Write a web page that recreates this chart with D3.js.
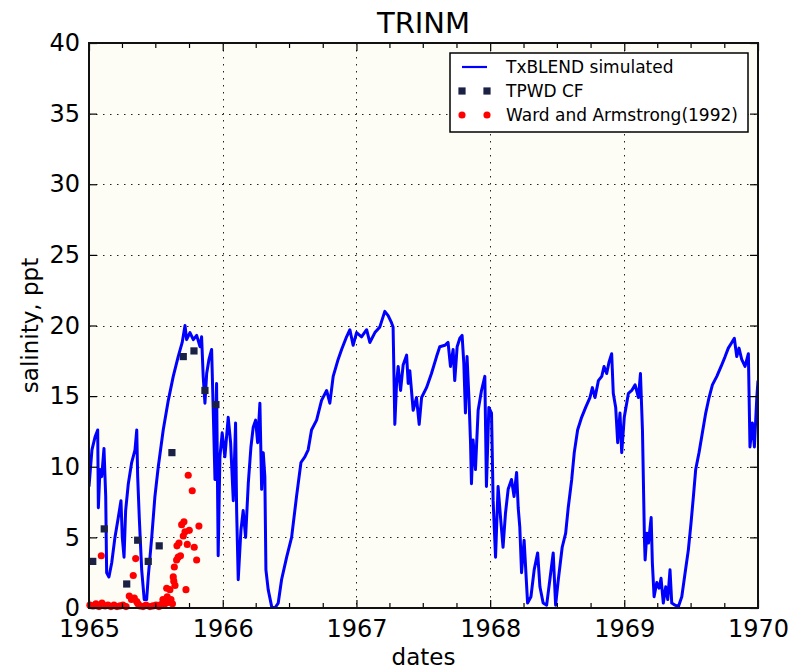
<!DOCTYPE html>
<html>
<head>
<meta charset="utf-8">
<script src="https://cdn.jsdelivr.net/npm/d3@7"></script>
<style>
  html, body { margin: 0; padding: 0; background: #ffffff; }
  svg { display: block; }
  text { font-family: "DejaVu Sans", sans-serif; fill: #000; }
</style>
</head>
<body>
<svg id="chart" width="795" height="672"></svg>
<script>
// ---------- data (decimal year, salinity ppt) ----------
const chartTitle = "TRINM";
const xLabel = "dates";
const yLabel = "salinity, ppt";
const yearTicks = [1965, 1966, 1967, 1968, 1969, 1970];
const salinityTicks = [0, 5, 10, 15, 20, 25, 30, 35, 40];
const seriesNames = ["TxBLEND simulated", "TPWD CF", "Ward and Armstrong(1992)"];

const simulated = [
  [1965.000,8.6],[1965.022,11.2],[1965.045,12.1],[1965.065,12.6],[1965.070,7.1],[1965.082,9.8],[1965.095,9.3],
  [1965.112,11.3],[1965.125,7.9],[1965.132,2.5],[1965.149,2.2],[1965.170,3.2],[1965.194,5.0],[1965.219,6.4],
  [1965.239,7.6],[1965.249,5.0],[1965.262,3.6],[1965.274,6.9],[1965.294,8.8],[1965.319,10.3],[1965.344,11.2],
  [1965.357,12.6],[1965.364,9.3],[1965.376,6.4],[1965.394,2.7],[1965.413,0.6],[1965.431,0.6],[1965.443,2.2],
  [1965.469,5.0],[1965.493,7.9],[1965.518,10.0],[1965.555,12.6],[1965.593,14.7],[1965.630,16.4],[1965.667,17.8],
  [1965.697,18.8],[1965.718,20.0],[1965.730,19.0],[1965.755,19.5],[1965.780,19.0],[1965.805,19.3],[1965.830,18.5],
  [1965.842,19.2],[1965.854,16.4],[1965.867,14.5],[1965.880,16.6],[1965.897,17.6],[1965.917,18.3],[1965.929,14.0],
  [1965.942,9.1],[1965.954,15.9],[1965.966,3.7],[1965.979,10.7],[1965.996,12.4],
  [1966.016,10.7],[1966.041,13.5],[1966.059,11.7],[1966.079,7.6],[1966.096,13.1],[1966.104,6.9],[1966.116,2.0],
  [1966.136,5.5],[1966.153,6.9],[1966.171,5.0],[1966.191,8.8],[1966.211,11.4],[1966.228,12.8],[1966.246,13.3],
  [1966.261,11.7],[1966.278,14.5],[1966.291,8.4],[1966.303,11.0],[1966.315,9.3],[1966.323,2.7],[1966.340,1.3],
  [1966.366,0.1],[1966.390,0.0],[1966.415,0.35],[1966.440,2.0],[1966.478,3.6],[1966.515,5.0],[1966.552,7.9],
  [1966.585,10.3],[1966.614,10.7],[1966.639,11.2],[1966.664,12.6],[1966.702,13.3],[1966.739,14.7],[1966.777,15.4],
  [1966.801,14.5],[1966.826,16.4],[1966.863,17.6],[1966.889,18.3],[1966.926,19.2],[1966.951,19.7],[1966.975,18.6],
  [1967.001,19.5],[1967.038,19.2],[1967.076,19.7],[1967.100,18.8],[1967.138,19.5],[1967.175,19.9],[1967.212,21.0],
  [1967.237,20.7],[1967.262,20.2],[1967.274,19.9],[1967.287,13.0],[1967.300,15.9],[1967.312,17.1],[1967.330,15.4],
  [1967.349,17.2],[1967.375,17.9],[1967.387,15.9],[1967.399,16.8],[1967.424,14.0],[1967.449,14.9],[1967.469,13.0],
  [1967.487,14.9],[1967.524,15.6],[1967.561,16.6],[1967.599,17.8],[1967.623,18.5],[1967.661,18.6],[1967.685,18.8],
  [1967.703,17.1],[1967.723,18.3],[1967.735,16.1],[1967.753,18.5],[1967.773,19.1],[1967.790,19.3],[1967.803,17.3],
  [1967.815,13.8],[1967.827,17.8],[1967.842,14.7],[1967.853,11.7],[1967.860,8.8],[1967.872,11.9],[1967.890,9.8],
  [1967.910,14.0],[1967.935,15.4],[1967.960,16.4],[1967.972,8.6],[1967.990,14.2],
  [1968.010,13.8],[1968.022,7.6],[1968.040,3.6],[1968.059,8.6],[1968.079,6.2],[1968.096,4.3],[1968.114,6.7],
  [1968.134,8.4],[1968.159,9.1],[1968.178,7.9],[1968.197,9.6],[1968.209,7.1],[1968.221,5.7],[1968.234,2.5],
  [1968.253,4.8],[1968.279,0.35],[1968.304,0.8],[1968.328,2.7],[1968.354,3.9],[1968.371,1.5],[1968.395,0.35],
  [1968.421,0.2],[1968.445,2.0],[1968.470,3.9],[1968.488,0.2],[1968.508,2.0],[1968.537,4.3],[1968.563,5.3],
  [1968.582,7.1],[1968.608,9.1],[1968.627,11.0],[1968.652,12.6],[1968.682,13.5],[1968.712,14.2],[1968.744,14.9],
  [1968.762,15.6],[1968.782,14.9],[1968.807,16.1],[1968.832,16.4],[1968.849,17.1],[1968.869,16.6],[1968.886,17.4],
  [1968.906,18.0],[1968.918,15.2],[1968.936,14.2],[1968.951,11.7],[1968.968,13.8],[1968.981,11.0],
  [1969.000,13.5],[1969.031,15.2],[1969.056,15.4],[1969.081,15.8],[1969.106,14.9],[1969.121,16.6],[1969.136,12.6],
  [1969.151,4.8],[1969.156,3.4],[1969.169,5.3],[1969.181,4.6],[1969.201,6.4],[1969.210,3.2],[1969.223,0.8],
  [1969.243,1.8],[1969.260,1.4],[1969.275,2.1],[1969.292,0.35],[1969.310,1.5],[1969.325,0.6],[1969.342,2.7],
  [1969.355,0.35],[1969.380,0.2],[1969.405,0.1],[1969.430,0.8],[1969.455,2.5],[1969.479,4.1],[1969.499,6.0],
  [1969.517,7.9],[1969.534,9.8],[1969.559,11.0],[1969.584,12.4],[1969.609,13.8],[1969.634,14.9],[1969.659,15.8],
  [1969.692,16.4],[1969.724,17.1],[1969.754,17.8],[1969.778,18.4],[1969.804,18.8],[1969.823,19.1],[1969.841,17.8],
  [1969.858,18.4],[1969.878,17.6],[1969.903,17.1],[1969.928,18.0],[1969.940,11.4],[1969.958,13.1],[1969.973,11.4],
  [1969.991,14.9],[1970.000,16.1]
];

const tpwdCF = [
  [1965.028,3.3],[1965.114,5.6],[1965.282,1.7],[1965.364,4.8],[1965.443,3.3],[1965.525,4.4],
  [1965.620,11.0],[1965.705,17.8],[1965.785,18.2],[1965.867,15.4],[1965.949,14.4]
];

const wardArmstrong = [
  [1965.007,0.2],[1965.030,0.15],[1965.052,0.3],[1965.075,0.1],[1965.097,0.35],[1965.120,0.15],[1965.142,0.2],
  [1965.164,0.1],[1965.187,0.2],[1965.209,0.1],[1965.232,0.15],[1965.254,0.2],[1965.277,0.1],[1965.381,0.15],
  [1965.404,0.1],[1965.426,0.2],[1965.456,0.1],[1965.478,0.15],[1965.501,0.2],[1965.523,0.1],[1965.538,0.25],
  [1965.092,3.7],[1965.301,0.85],[1965.318,0.6],[1965.331,2.3],[1965.339,0.7],[1965.349,3.5],[1965.357,0.45],
  [1965.366,0.3],[1965.553,0.6],[1965.568,0.3],[1965.581,1.4],[1965.585,0.8],[1965.594,0.4],[1965.605,1.3],
  [1965.613,0.6],[1965.624,0.3],[1965.630,2.2],[1965.634,1.9],[1965.638,2.9],[1965.643,1.6],[1965.655,3.4],
  [1965.658,4.4],[1965.667,3.6],[1965.673,4.6],[1965.684,3.7],[1965.693,5.9],[1965.705,5.1],[1965.710,6.1],
  [1965.718,5.4],[1965.725,1.3],[1965.735,4.5],[1965.742,9.4],[1965.750,5.5],[1965.772,8.3],[1965.787,4.3],
  [1965.805,3.4],[1965.822,5.8]
];

// ---------- helpers ----------
function toDate(dy) {
  const y = Math.floor(dy);
  const s = Date.UTC(y, 0, 1), e = Date.UTC(y + 1, 0, 1);
  return new Date(s + (dy - y) * (e - s));
}

// ---------- layout ----------
const plot = { left: 89, top: 43, right: 758, bottom: 608 };
const svg = d3.select("#chart");

const x = d3.scaleUtc()
  .domain([toDate(yearTicks[0]), toDate(yearTicks[yearTicks.length - 1])])
  .range([plot.left, plot.right]);
const y = d3.scaleLinear()
  .domain([salinityTicks[0], salinityTicks[salinityTicks.length - 1]])
  .range([plot.bottom, plot.top]);

const yearDates = yearTicks.map(toDate);
const quarterDates = d3.utcMonth.every(3).range(yearDates[0], yearDates[yearDates.length - 1])
  .filter(d => d.getUTCMonth() !== 0);

// background
svg.append("rect")
  .attr("x", plot.left).attr("y", plot.top)
  .attr("width", plot.right - plot.left).attr("height", plot.bottom - plot.top)
  .attr("fill", "#fdfdf6");

// grid
const grid = svg.append("g").attr("stroke", "#222").attr("stroke-width", 1)
  .attr("stroke-dasharray", "1.5,5.5").attr("fill", "none");
grid.selectAll("line.v").data(yearDates.slice(1, -1)).join("line")
  .attr("x1", d => Math.round(x(d)) + 0.5).attr("x2", d => Math.round(x(d)) + 0.5)
  .attr("y1", plot.top).attr("y2", plot.bottom);
grid.selectAll("line.h").data(salinityTicks.slice(1, -1)).join("line")
  .attr("y1", d => Math.round(y(d)) + 0.5).attr("y2", d => Math.round(y(d)) + 0.5)
  .attr("x1", plot.left).attr("x2", plot.right);

// clip
svg.append("clipPath").attr("id", "clip").append("rect")
  .attr("x", plot.left).attr("y", plot.top - 2)
  .attr("width", plot.right - plot.left).attr("height", plot.bottom - plot.top + 2);

const marks = svg.append("g").attr("clip-path", "url(#clip)");

const line = d3.line()
  .x(d => x(toDate(d[0])))
  .y(d => y(d[1]));

marks.append("path")
  .datum(simulated)
  .attr("d", line)
  .attr("fill", "none")
  .attr("stroke", "#0000ff")
  .attr("stroke-width", 3)
  .attr("stroke-linejoin", "round");

const squareSym = d3.symbol().type(d3.symbolSquare).size(52);
marks.selectAll("path.tpwd").data(tpwdCF).join("path")
  .attr("class", "tpwd")
  .attr("d", squareSym)
  .attr("transform", d => `translate(${x(toDate(d[0]))},${y(d[1])})`)
  .attr("fill", "#1b2145");

const circleSym = d3.symbol().type(d3.symbolCircle).size(40);
svg.append("g").selectAll("path.wa").data(wardArmstrong).join("path")
  .attr("class", "wa")
  .attr("d", circleSym)
  .attr("transform", d => `translate(${x(toDate(d[0]))},${y(d[1])})`)
  .attr("fill", "#ff0000");

// axes (inward ticks)
function styleAxis(g) {
  g.select(".domain").remove();
  g.selectAll(".tick line").attr("stroke", "#000").attr("stroke-width", 1.2);
  g.selectAll(".tick text").style("font-family", "DejaVu Sans, sans-serif").style("font-size", "24px").attr("fill", "#111");
}
svg.append("g").attr("transform", `translate(0,${plot.bottom})`)
  .call(d3.axisBottom(x).tickValues(yearDates).tickSize(-8).tickPadding(12).tickFormat(d3.utcFormat("%Y")))
  .call(styleAxis);
svg.append("g").attr("transform", `translate(0,${plot.bottom})`)
  .call(d3.axisBottom(x).tickValues(quarterDates).tickSize(-5).tickFormat(""))
  .call(styleAxis);
svg.append("g").attr("transform", `translate(0,${plot.top})`)
  .call(d3.axisTop(x).tickValues(yearDates).tickSize(-8).tickFormat(""))
  .call(styleAxis);
svg.append("g").attr("transform", `translate(0,${plot.top})`)
  .call(d3.axisTop(x).tickValues(quarterDates).tickSize(-5).tickFormat(""))
  .call(styleAxis);
svg.append("g").attr("transform", `translate(${plot.left},0)`)
  .call(d3.axisLeft(y).tickValues(salinityTicks).tickSize(-8).tickPadding(9).tickFormat(d3.format("d")))
  .call(styleAxis);
svg.append("g").attr("transform", `translate(${plot.right},0)`)
  .call(d3.axisRight(y).tickValues(salinityTicks).tickSize(-8).tickFormat(""))
  .call(styleAxis);

// frame
svg.append("rect")
  .attr("x", plot.left).attr("y", plot.top)
  .attr("width", plot.right - plot.left).attr("height", plot.bottom - plot.top)
  .attr("fill", "none").attr("stroke", "#111").attr("stroke-width", 2);

// titles
svg.append("text").attr("x", (plot.left + plot.right) / 2).attr("y", 33)
  .attr("text-anchor", "middle").style("font-size", "29px").text(chartTitle);
svg.append("text").attr("x", (plot.left + plot.right) / 2).attr("y", 665)
  .attr("text-anchor", "middle").style("font-size", "23px").attr("fill", "#111").text(xLabel);
svg.append("text")
  .attr("transform", `translate(38,${(plot.top + plot.bottom) / 2}) rotate(-90)`)
  .attr("text-anchor", "middle").style("font-size", "23px").attr("fill", "#111").text(yLabel);

// legend
const lg = svg.append("g");
lg.append("rect").attr("x", 450).attr("y", 53).attr("width", 298).attr("height", 79)
  .attr("fill", "#ffffff").attr("stroke", "#000").attr("stroke-width", 1.5);
const rows = [67, 91, 115];
lg.append("line").attr("x1", 462).attr("x2", 487).attr("y1", rows[0]).attr("y2", rows[0])
  .attr("stroke", "#0000ff").attr("stroke-width", 2.2);
[462, 487].forEach(px => {
  lg.append("path").attr("d", squareSym).attr("transform", `translate(${px},${rows[1]})`).attr("fill", "#1b2145");
  lg.append("path").attr("d", circleSym).attr("transform", `translate(${px},${rows[2]})`).attr("fill", "#ff0000");
});
seriesNames.forEach((name, i) => {
  lg.append("text").attr("x", 506).attr("y", rows[i]).attr("dy", "0.36em")
    .style("font-size", "17px").attr("fill", "#222").text(name);
});
</script>
</body>
</html>
